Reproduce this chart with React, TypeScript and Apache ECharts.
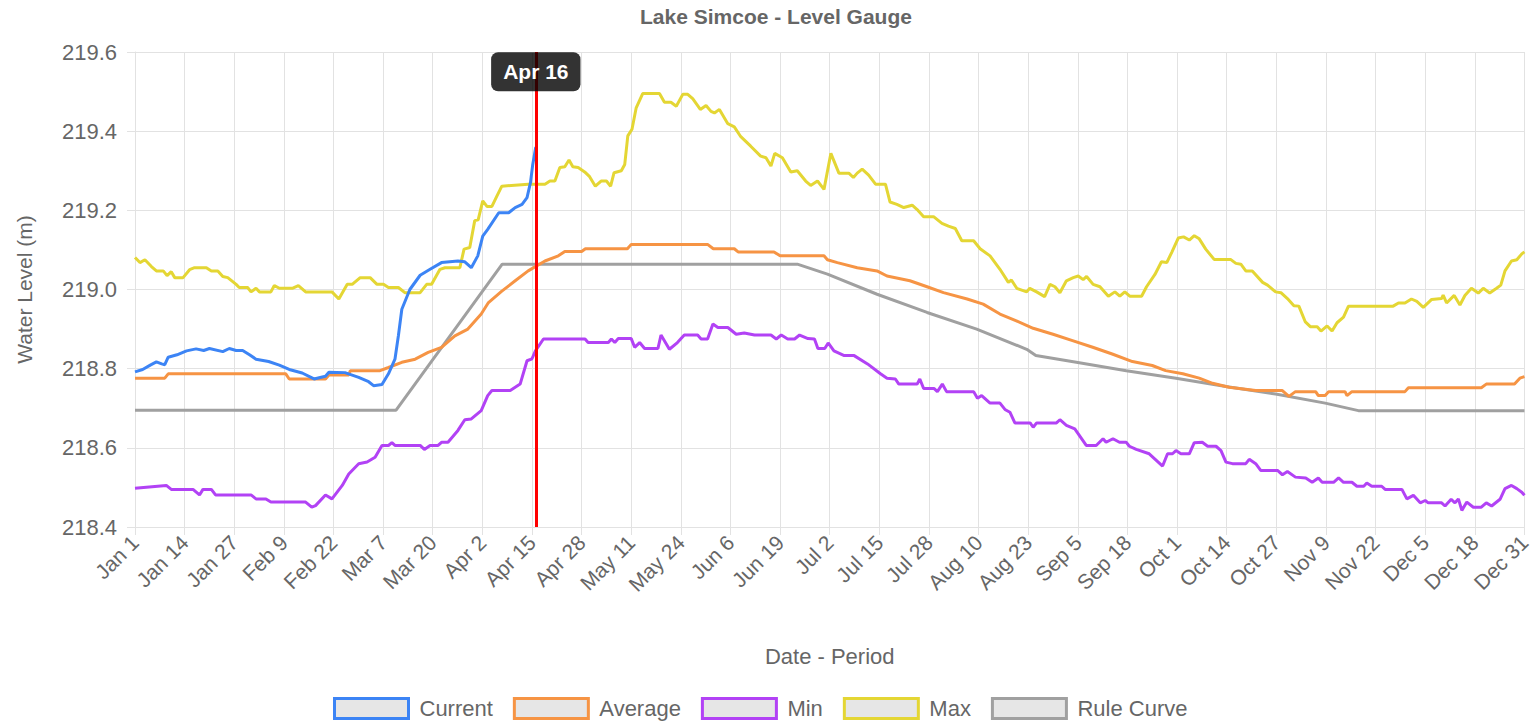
import React, { useEffect, useRef } from "react";
import * as echarts from "echarts";

const xTickLabels = ["Jan 1","Jan 14","Jan 27","Feb 9","Feb 22","Mar 7","Mar 20","Apr 2","Apr 15","Apr 28","May 11","May 24","Jun 6","Jun 19","Jul 2","Jul 15","Jul 28","Aug 10","Aug 23","Sep 5","Sep 18","Oct 1","Oct 14","Oct 27","Nov 9","Nov 22","Dec 5","Dec 18","Dec 31"];

const seriesNames = ["Current", "Average", "Min", "Max", "Rule Curve"];
const seriesColors = ["rgb(60,132,245)", "rgb(246,148,68)", "rgb(178,66,245)", "rgb(228,214,52)", "rgb(160,160,160)"];

const todayDay = 105;
const todayLabel = "Apr 16";

// [day of year (0 = Jan 1), water level m]
const currentData = [[0,218.792],[2,218.798],[4,218.809],[5.6,218.817],[7,218.812],[7.8,218.81],[8.7,218.829],[11,218.835],[13.5,218.845],[16,218.85],[18,218.846],[19.5,218.851],[23,218.843],[24.7,218.851],[26.5,218.846],[28.2,218.846],[30,218.835],[31.7,218.824],[35,218.818],[37.8,218.809],[40.4,218.798],[43.8,218.789],[46.9,218.774],[49.9,218.781],[50.8,218.791],[55,218.79],[58.6,218.778],[61.2,218.767],[62.5,218.757],[64.7,218.76],[66.4,218.787],[68.1,218.824],[69,218.883],[69.9,218.95],[72,219.0],[74.7,219.036],[77.3,219.051],[80.3,219.068],[84.6,219.072],[86.4,219.07],[88.1,219.055],[89.8,219.085],[91.1,219.135],[92.4,219.152],[95.3,219.194],[97.9,219.194],[99.6,219.207],[101.4,219.215],[102.7,219.232],[103.6,219.27],[104.2,219.316],[105,219.36]];

const averageData = [[0,218.776],[7.8,218.776],[8.7,218.787],[39.5,218.787],[40.4,218.774],[49.9,218.774],[50.8,218.784],[56,218.784],[56.4,218.795],[64.2,218.795],[66.4,218.803],[69.9,218.816],[73.4,218.824],[76.8,218.841],[80.3,218.854],[83.8,218.883],[87.2,218.9],[90.7,218.938],[92.6,218.967],[96.1,218.996],[99.6,219.022],[103,219.047],[107.4,219.072],[110.9,219.085],[112.6,219.096],[117,219.096],[118,219.103],[129,219.103],[130,219.114],[150,219.114],[151.5,219.103],[157,219.103],[158,219.095],[167.4,219.095],[169,219.085],[180.5,219.085],[181.4,219.075],[184,219.068],[189.2,219.055],[194.4,219.047],[197,219.034],[203,219.022],[207.5,219.007],[211.8,218.992],[218,218.976],[222.2,218.963],[226.6,218.938],[230.9,218.921],[235.3,218.902],[240.5,218.887],[245.6,218.871],[250.9,218.854],[256,218.837],[261.3,218.818],[266.5,218.808],[270,218.795],[274.5,218.787],[278.8,218.776],[282.3,218.763],[286.6,218.753],[293.6,218.745],[300.5,218.745],[302.3,218.73],[304,218.742],[309.3,218.742],[310,218.732],[311.8,218.732],[312.7,218.742],[317,218.742],[317.5,218.732],[318.8,218.742],[332.7,218.742],[333.6,218.752],[352.7,218.752],[354,218.761],[361.4,218.761],[362.8,218.776],[364,218.78]];

const minData = [[0,218.498],[8.2,218.505],[9.5,218.495],[15.2,218.495],[16.9,218.481],[17.8,218.495],[20,218.495],[21.1,218.481],[30.4,218.481],[31.7,218.471],[34.3,218.471],[35.6,218.463],[44.7,218.463],[46.3,218.45],[47.3,218.454],[49.9,218.481],[51.6,218.471],[54.3,218.505],[56,218.534],[58.6,218.56],[60.8,218.564],[62.9,218.576],[64.7,218.606],[66.4,218.606],[67.3,218.613],[68.1,218.606],[74.7,218.606],[75.8,218.596],[77.3,218.606],[79.4,218.606],[80.3,218.614],[82,218.614],[84.6,218.644],[86.4,218.671],[88.1,218.673],[90.7,218.694],[92.4,218.732],[93.5,218.745],[98.3,218.745],[100.9,218.761],[102.7,218.82],[104,218.825],[104.9,218.845],[107,218.875],[117.9,218.875],[118.7,218.866],[124,218.866],[124.8,218.875],[125.7,218.866],[126.6,218.876],[130,218.876],[130.9,218.854],[132.2,218.866],[133.5,218.851],[137,218.851],[137.8,218.885],[140,218.849],[142.1,218.866],[143.9,218.885],[147.4,218.885],[148.3,218.875],[150,218.875],[151.4,218.913],[152.7,218.904],[155.3,218.904],[157.5,218.887],[159.6,218.89],[162.3,218.885],[166.6,218.885],[168,218.875],[169.3,218.885],[171,218.875],[172.8,218.875],[174.1,218.885],[176.3,218.876],[178,218.875],[178.9,218.851],[180.7,218.851],[181.6,218.865],[183.1,218.845],[185.8,218.833],[188.4,218.833],[191.9,218.812],[195.3,218.787],[197,218.776],[199.2,218.774],[200.1,218.761],[204.9,218.761],[205.6,218.774],[206.6,218.75],[209.3,218.75],[210.2,218.742],[211.5,218.761],[212.6,218.742],[219.7,218.742],[220.7,218.725],[221.8,218.732],[224,218.713],[226.6,218.713],[227.9,218.697],[229.2,218.69],[230.5,218.663],[234.5,218.663],[235.3,218.652],[236.2,218.663],[241.4,218.663],[242.3,218.671],[244,218.657],[246.2,218.648],[249.2,218.606],[251.8,218.606],[253.6,218.623],[254.4,218.614],[256.2,218.623],[257.9,218.614],[259.7,218.614],[260.5,218.604],[262.3,218.596],[265.7,218.585],[269.2,218.554],[270.5,218.585],[271.8,218.585],[272.7,218.593],[274,218.585],[276.2,218.585],[277.5,218.613],[279.6,218.614],[281,218.604],[283.2,218.604],[284.5,218.593],[285.8,218.564],[287.5,218.56],[291,218.56],[291.9,218.571],[293.6,218.56],[294.9,218.543],[299.3,218.543],[300.6,218.532],[301.9,218.54],[304,218.526],[306.7,218.524],[308.4,218.513],[310,218.524],[311,218.513],[314,218.513],[315.3,218.524],[316.6,218.513],[318.8,218.513],[320.1,218.503],[321.9,218.503],[322.7,218.511],[324,218.503],[326.6,218.503],[327.5,218.495],[331.9,218.495],[333.2,218.471],[334.9,218.48],[336.7,218.461],[338,218.467],[338.8,218.461],[342.3,218.461],[343.2,218.453],[344.8,218.47],[345.8,218.461],[346.7,218.471],[347.6,218.442],[348.9,218.463],[350.6,218.45],[352.7,218.45],[354,218.461],[355.4,218.453],[357.6,218.47],[358.9,218.497],[360.6,218.505],[362,218.497],[363.3,218.488],[364,218.48]];

const maxData = [[0,219.081],[1.3,219.068],[2.6,219.075],[4.3,219.058],[5.6,219.047],[7.4,219.047],[8.4,219.035],[9.5,219.045],[10.4,219.03],[12.6,219.03],[14.3,219.05],[15.6,219.055],[18.7,219.055],[20,219.047],[21.7,219.047],[23,219.033],[24.3,219.03],[26.5,219.013],[27.3,219.005],[29.5,219.005],[30.4,218.994],[31.7,219.003],[32.6,218.994],[35.6,218.994],[36.5,219.01],[37.8,219.003],[41.2,219.003],[42.8,219.01],[44.7,218.994],[51.6,218.994],[53.4,218.976],[55.6,219.013],[56.9,219.013],[59,219.03],[61.6,219.03],[63.4,219.013],[65.1,219.013],[66.4,219.005],[69,219.005],[70.7,218.992],[74.7,218.992],[76.4,219.013],[77.7,219.013],[79.9,219.051],[81.2,219.055],[85.1,219.055],[86.2,219.102],[87.7,219.106],[89,219.174],[89.9,219.176],[91.1,219.224],[92.2,219.21],[93.5,219.21],[94.8,219.236],[96.1,219.261],[103,219.266],[107.4,219.266],[108.7,219.274],[110,219.274],[111.3,219.308],[112.6,219.31],[113.7,219.327],[114.7,219.31],[116.1,219.308],[117.8,219.297],[119.1,219.285],[120.6,219.261],[122.1,219.274],[123.5,219.274],[124.6,219.261],[125.5,219.295],[127.4,219.3],[128.3,219.316],[129.1,219.388],[130.2,219.405],[131.3,219.459],[133,219.495],[137.4,219.495],[138.7,219.473],[140.4,219.473],[141.8,219.463],[143.5,219.493],[144.8,219.493],[146.1,219.482],[148.1,219.455],[149.6,219.465],[150.9,219.45],[151.8,219.446],[153.1,219.455],[155.3,219.419],[157,219.411],[158.7,219.386],[161.3,219.362],[163.9,219.337],[165.3,219.333],[166.6,219.312],[167.6,219.344],[169.6,219.333],[171.8,219.297],[173.5,219.3],[175.7,219.274],[177,219.263],[178.8,219.274],[180.5,219.253],[182.3,219.344],[184.4,219.294],[187,219.294],[188.2,219.283],[189.2,219.294],[190.5,219.304],[192.2,219.289],[194,219.266],[196.6,219.266],[197.8,219.221],[199.6,219.215],[201.4,219.207],[203.6,219.213],[204.9,219.202],[206.6,219.184],[209.2,219.184],[211.4,219.167],[213.1,219.16],[214.9,219.154],[216.6,219.123],[219.7,219.123],[221.4,219.103],[224,219.085],[226.6,219.051],[228.8,219.018],[229.6,219.024],[231,219.003],[233.6,218.994],[234.4,219.003],[236.2,218.994],[238.3,218.982],[239.7,219.013],[241,219.007],[242.3,218.992],[244,219.022],[245.8,219.03],[247.1,219.034],[248.4,219.025],[249.3,219.033],[251,219.013],[252.8,219.007],[255,218.983],[256.7,218.994],[258,218.983],[259.3,218.994],[260.6,218.983],[263.7,218.983],[265,219.007],[267.2,219.038],[268.9,219.07],[270.3,219.068],[271.6,219.094],[273.3,219.13],[274.7,219.133],[276.2,219.125],[277.5,219.136],[278.8,219.128],[280.5,219.102],[282.7,219.076],[287,219.076],[288.4,219.066],[289.7,219.064],[291,219.047],[292.7,219.047],[295.4,219.018],[296.7,219.011],[298.8,218.994],[300.2,218.992],[301.9,218.977],[303.6,218.959],[304.9,218.958],[306.6,218.918],[307.9,218.906],[309.7,218.906],[310.7,218.895],[312.3,218.908],[313.6,218.895],[314.9,218.916],[316.6,218.93],[317.9,218.958],[329.6,218.958],[331,218.966],[332.7,218.966],[334.4,218.976],[335.8,218.97],[337.5,218.955],[339.7,218.975],[342.3,218.977],[342.7,218.986],[343.6,218.966],[345.6,218.985],[347.1,218.961],[348.4,218.985],[350.1,219.003],[351.9,218.991],[353.2,219.003],[354.9,218.991],[356.7,219.003],[357.8,219.011],[358.9,219.047],[360.6,219.072],[362,219.075],[363.3,219.09],[364,219.095]];

const ruleCurveData = [[0,218.695],[68.4,218.695],[96.2,219.064],[173.5,219.064],[181.4,219.039],[194.4,218.988],[207.5,218.942],[220.5,218.9],[233.6,218.849],[236,218.833],[246.6,218.816],[259.7,218.795],[272.7,218.776],[285.8,218.755],[298.8,218.736],[311.8,218.713],[320.5,218.694],[364,218.694]];

const allData = [currentData, averageData, minData, maxData, ruleCurveData];

const FONT = "'Liberation Sans', Arial, Helvetica, sans-serif";
const GRID = "#e2e2e2";

export default function App() {
  const ref = useRef<HTMLDivElement>(null);
  useEffect(() => {
    if (!ref.current) return;
    const chart = echarts.init(ref.current, null, { renderer: "svg" });
    const lineSeries = seriesNames.map((name, i) => ({
      name,
      type: "line",
      data: allData[i],
      showSymbol: false,
      symbol: "none",
      lineStyle: { color: seriesColors[i], width: 3 },
      itemStyle: { color: seriesColors[i] },
      z: 10 - i,
      silent: true,
      ...(i === 0
        ? {
            markLine: {
              symbol: "none",
              silent: true,
              animation: false,
              z: 15,
              label: { show: false },
              lineStyle: { color: "#ff0000", width: 3, type: "solid", opacity: 1 },
              emphasis: { disabled: true },
              data: [{ xAxis: todayDay }],
            },
          }
        : {}),
    }));
    chart.setOption({
      animation: false,
      title: {
        text: "Lake Simcoe - Level Gauge",
        left: 640,
        top: 6,
        padding: 0,
        textStyle: { fontSize: 21, fontWeight: "bold", color: "#666", fontFamily: FONT },
      },
      legend: {
        top: 692,
        left: 328,
        icon: "rect",
        itemWidth: 74,
        itemHeight: 20,
        itemGap: 20,
        textStyle: { fontSize: 22, color: "#666", fontFamily: FONT, padding: [0, 0, 0, 6] },
        data: seriesNames.map((n, i) => ({
          name: n,
          itemStyle: { color: "#e6e6e6", borderColor: seriesColors[i], borderWidth: 3 },
        })),
      },
      grid: { left: 135, right: 3, top: 52, bottom: 195, containLabel: false },
      xAxis: {
        type: "value",
        min: 0,
        max: 364,
        interval: 13,
        name: "Date - Period",
        nameLocation: "middle",
        nameGap: 118,
        nameTextStyle: { fontSize: 22, color: "#666", fontFamily: FONT },
        axisLine: { show: true, lineStyle: { color: GRID, width: 1 } },
        axisTick: { show: true, length: 8, lineStyle: { color: GRID } },
        splitLine: { show: true, lineStyle: { color: GRID, width: 1 } },
        axisLabel: {
          rotate: 45,
          margin: 12,
          fontSize: 21,
          color: "#666",
          fontFamily: FONT,
          formatter: (v: number) => xTickLabels[Math.round(v / 13)] ?? "",
        },
      },
      yAxis: {
        type: "value",
        min: 218.4,
        max: 219.6,
        interval: 0.2,
        name: "Water Level (m)",
        nameLocation: "middle",
        nameGap: 100,
        nameRotate: 90,
        nameTextStyle: { fontSize: 21, color: "#666", fontFamily: FONT },
        axisLine: { show: true, lineStyle: { color: GRID, width: 1 } },
        axisTick: { show: true, length: 8, lineStyle: { color: GRID } },
        splitLine: { show: true, lineStyle: { color: GRID, width: 1 } },
        axisLabel: {
          margin: 18,
          fontSize: 22,
          color: "#666",
          fontFamily: FONT,
          formatter: (v: number) => v.toFixed(1),
        },
      },
      series: [
        ...lineSeries,
        {
          name: "todayLabel",
          type: "scatter",
          data: [[todayDay, 219.55]],
          symbolSize: 0,
          silent: true,
          z: 20,
          itemStyle: { opacity: 1 },
          label: {
            show: true,
            position: "inside",
            formatter: todayLabel,
            color: "#fff",
            fontWeight: "bold",
            fontSize: 21,
            fontFamily: FONT,
            opacity: 1,
            backgroundColor: "rgba(0,0,0,0.8)",
            borderRadius: 7,
            padding: [9, 12, 9, 12],
          },
        },
      ],
    });
    return () => chart.dispose();
  }, []);
  return (
    <div
      ref={ref}
      style={{ position: "fixed", left: 0, top: 0, width: 1534, height: 722, background: "#fff" }}
    />
  );
}
